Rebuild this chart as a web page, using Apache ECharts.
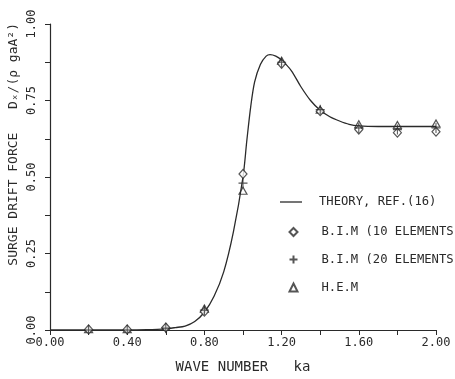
<!DOCTYPE html>
<html>
<head>
<meta charset="utf-8">
<script src="https://cdn.jsdelivr.net/npm/echarts@6/dist/echarts.min.js"></script>
<style>
  html, body { margin: 0; padding: 0; background: #fff; }
  #chart { width: 455px; height: 379px; }
</style>
</head>
<body>
<div id="chart"></div>
<script>
// theory curve, Ref.(16)
let theoryX = [0, 0.2, 0.4, 0.5, 0.6, 0.65, 0.7, 0.75, 0.8, 0.85, 0.9, 0.95, 1.0, 1.02, 1.04, 1.06, 1.09, 1.12, 1.14, 1.17, 1.2, 1.25, 1.3, 1.35, 1.4, 1.45, 1.5, 1.55, 1.6, 1.7, 1.8, 1.9, 2.0];
let theoryY = [0, 0, 0, 0.001, 0.004, 0.008, 0.013, 0.028, 0.058, 0.11, 0.19, 0.32, 0.5, 0.62, 0.73, 0.81, 0.868, 0.895, 0.9, 0.895, 0.882, 0.848, 0.795, 0.75, 0.718, 0.697, 0.683, 0.672, 0.667, 0.665, 0.665, 0.665, 0.665];

// computed points
let kaPoints = [0.2, 0.4, 0.6, 0.8, 1.0, 1.2, 1.4, 1.6, 1.8, 2.0];
let bim10 = [0.002, 0.002, 0.008, 0.06, 0.51, 0.87, 0.715, 0.655, 0.645, 0.648];
let bim20 = [0, 0, 0.006, 0.065, 0.48, 0.875, 0.72, 0.66, 0.655, 0.66];
let hem = [0.003, 0.003, 0.01, 0.07, 0.455, 0.88, 0.72, 0.672, 0.67, 0.675];

let xTicks = [0, 0.4, 0.8, 1.2, 1.6, 2.0];
let yTicks = [0, 0.25, 0.5, 0.75, 1.0];

let ink = '#2a2a2a';
let font = 'DejaVu Sans Mono';

let zip = (xs, ys) => xs.map((x, i) => [x, ys[i]]);
let isTick = (list, v) => list.some(t => Math.abs(t - v) < 1e-6);

let legendText = { fontFamily: font, fontSize: 12.2, color: ink };

let chart = echarts.init(document.getElementById('chart'));

let option = {
    animation: false,
    backgroundColor: '#fff',
    grid: { left: 50, right: 19, top: 24, bottom: 46 },
    legend: [
        {
            orient: 'vertical',
            left: 280,
            top: 196,
            padding: 0,
            itemWidth: 22,
            itemHeight: 9,
            textStyle: { ...legendText, padding: [0, 0, 0, 12] },
            data: [
                { name: 'THEORY, REF.(16)', icon: 'path://M0,0H22V1.3H0Z', itemStyle: { color: ink, borderWidth: 0 } }
            ]
        },
        {
            orient: 'vertical',
            left: 287,
            top: 226,
            padding: 0,
            itemWidth: 8,
            itemHeight: 8,
            itemGap: 15,
            textStyle: { ...legendText, padding: [0, 0, 0, 19] },
            data: ['B.I.M (10 ELEMENTS', 'B.I.M (20 ELEMENTS', 'H.E.M']
        }
    ],
    xAxis: {
        type: 'value',
        min: 0,
        max: 2,
        interval: 0.2,
        name: 'WAVE NUMBER   ka',
        nameLocation: 'middle',
        nameGap: 30,
        nameTextStyle: { fontFamily: font, fontSize: 14, color: ink },
        axisLine: { lineStyle: { color: ink, width: 1.2 } },
        axisTick: { length: 5, lineStyle: { color: ink } },
        splitLine: { show: false },
        axisLabel: {
            fontFamily: font, fontSize: 12, color: ink, margin: 7,
            formatter: v => isTick(xTicks, v) ? v.toFixed(2) : ''
        }
    },
    yAxis: {
        type: 'value',
        min: 0,
        max: 1,
        interval: 0.125,
        axisLine: { show: true, lineStyle: { color: ink, width: 1.2 } },
        axisTick: { show: true, length: 5, lineStyle: { color: ink } },
        splitLine: { show: false },
        axisLabel: {
            rotate: 90, fontFamily: font, fontSize: 12, color: ink, margin: 12,
            formatter: v => isTick(yTicks, v) ? v.toFixed(2) : ''
        }
    },
    graphic: [
        {
            type: 'text',
            left: 7,
            top: 23,
            rotation: Math.PI / 2,
            originX: 0, originY: 0,
            style: {
                text: 'SURGE DRIFT FORCE   Dₓ/(ρ gaA²)',
                font: '13px "DejaVu Sans Mono"',
                fill: ink
            }
        }
    ],
    series: [
        {
            name: 'THEORY, REF.(16)',
            type: 'line',
            data: zip(theoryX, theoryY),
            smooth: 0.3,
            showSymbol: false,
            symbol: 'none',
            lineStyle: { color: ink, width: 1.3 },
            itemStyle: { color: ink },
            z: 2
        },
        {
            name: 'B.I.M (10 ELEMENTS',
            type: 'scatter',
            data: zip(kaPoints, bim10),
            symbol: 'diamond',
            symbolSize: [8, 9],
            itemStyle: { color: '#fff', borderColor: ink, borderWidth: 1.2 },
            z: 4
        },
        {
            name: 'B.I.M (20 ELEMENTS',
            type: 'scatter',
            data: zip(kaPoints, bim20),
            symbol: 'path://M5,0V10M0,5H10',
            symbolSize: [9, 10],
            itemStyle: { color: 'none', borderColor: ink, borderWidth: 1.1 },
            z: 5
        },
        {
            name: 'H.E.M',
            type: 'scatter',
            data: zip(kaPoints, hem),
            symbol: 'triangle',
            symbolSize: [8, 7],
            itemStyle: { color: 'none', borderColor: ink, borderWidth: 1.2 },
            z: 3
        }
    ]
};

chart.setOption(option);
</script>
</body>
</html>
